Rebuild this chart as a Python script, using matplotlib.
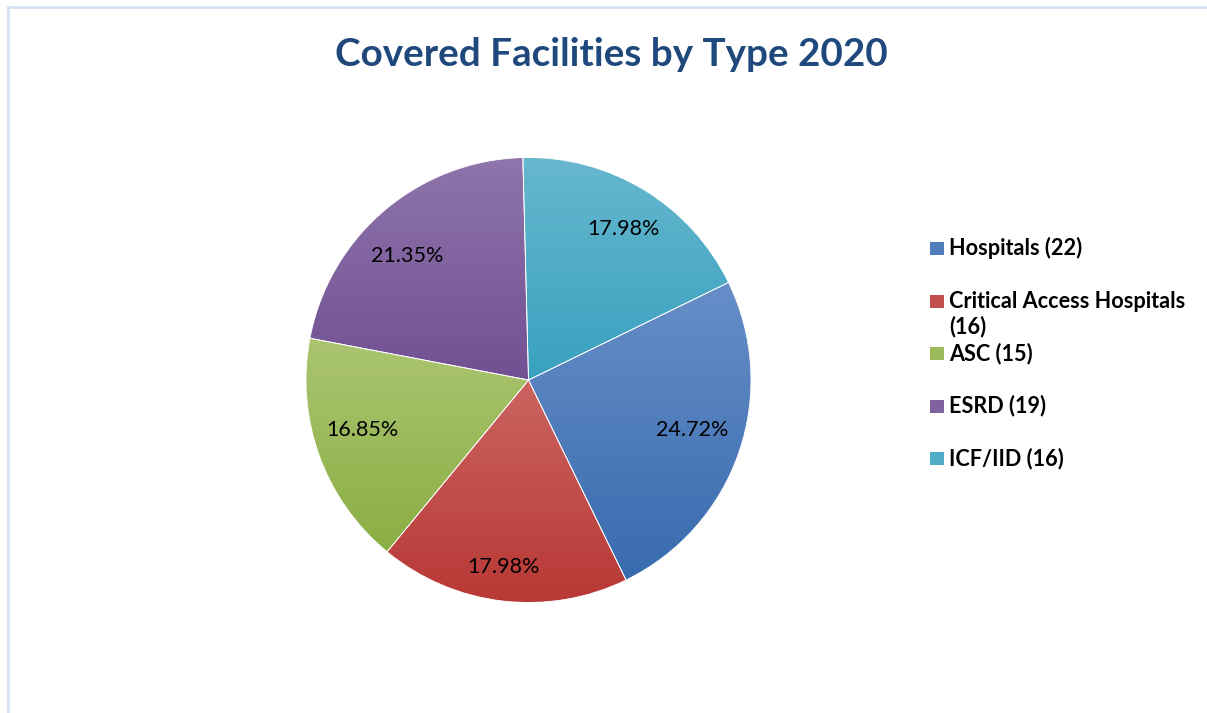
import textwrap
import numpy as np
import matplotlib.pyplot as plt
from matplotlib.colors import to_rgb
from matplotlib.lines import Line2D
from matplotlib.patches import Rectangle

# data
facility_types = ["Hospitals", "Critical Access Hospitals", "ASC", "ESRD", "ICF/IID"]
facility_counts = [22, 16, 15, 19, 16]
# percentages as printed on the chart (they don't add up to 100, kept as shown)
pct_labels = ["24.72%", "17.98%", "16.85%", "21.35%", "17.98%"]

# excel-ish gradient per slice (top -> bottom)
top_colors = ["#678EC7", "#CB6561", "#ABC571", "#8F75AB", "#67B7CF"]
bottom_colors = ["#386BAF", "#B83835", "#8AAE44", "#715093", "#38A1BE"]

# excel "best fit" label placement: radius fraction and angle nudge (deg) per slice
label_dist = [0.77, 0.85, 0.78, 0.78, 0.80]
label_nudge = [2, -1, -3, 4, -1]

W, H = 1207, 713
plt.rcParams['font.family'] = ['Lato', 'DejaVu Sans']
fig = plt.figure(figsize=(W / 100, H / 100), dpi=100)


def fx(px):
    return px / W


def fy(py):
    return 1 - py / H


# chart area border, only left and top edges are in the crop
border = "#D6E2F2"
fig.add_artist(Line2D([fx(7.5), fx(7.5)], [0, fy(6.5)], color=border, lw=2))
fig.add_artist(Line2D([fx(7.5), 1], [fy(6.5), fy(6.5)], color=border, lw=2))

fig.text(fx(611), fy(55), "Covered Facilities by Type 2020", ha="center", va="center",
         fontsize=27.8, fontweight="bold", color="#1F497D")

# pie
cx, cy, r = 528.5, 380, 222.5
ax = fig.add_axes([fx(cx - r), fy(cy + r), 2 * r / W, 2 * r / H])
labels_iter = iter(pct_labels)
wedges, texts, autotexts = ax.pie(
    facility_counts, startangle=26.0, counterclock=False,
    autopct=lambda p: next(labels_iter), pctdistance=0.79, radius=1,
    colors=bottom_colors,
    wedgeprops=dict(edgecolor="white", linewidth=0.6),
    textprops=dict(fontsize=15.5, color="black"))

t = np.linspace(0, 1, 256)[:, None]
for w, c0, c1 in zip(wedges, top_colors, bottom_colors):
    ext = w.get_path().get_extents()
    grad = (1 - t) * np.array(to_rgb(c0)) + t * np.array(to_rgb(c1))
    im = ax.imshow(grad[:, None, :], extent=[ext.x0, ext.x1, ext.y0, ext.y1],
                   origin="upper", aspect="auto", zorder=1.5, interpolation="bilinear")
    im.set_clip_path(w)
    w.set_facecolor("none")
    w.set_zorder(2)

for w, a, d, nudge in zip(wedges, autotexts, label_dist, label_nudge):
    mid = np.deg2rad((w.theta1 + w.theta2) / 2 + nudge)
    a.set_position((d * np.cos(mid), d * np.sin(mid)))
    a.set_zorder(5)

ax.set_xlim(-1, 1)
ax.set_ylim(-1, 1)
ax.axis("off")

# legend, drawn by hand to get excel's fixed slot spacing
for i, (name, n, c0, c1) in enumerate(zip(facility_types, facility_counts, top_colors, bottom_colors)):
    base = 255 + 52.5 * i
    fig.add_artist(Rectangle((fx(930), fy(base)), 14 / W, 13 / H, transform=fig.transFigure,
                             facecolor=np.mean([to_rgb(c0), to_rgb(c1)], axis=0), edgecolor="none"))
    lines = textwrap.wrap(f"{name} ({n})", 25)
    for j, line in enumerate(lines):
        fig.text(fx(949), fy(base + 26 * j), line, ha="left", va="baseline",
                 fontsize=15.6, fontweight="bold", color="black")

fig.savefig("out.png", dpi=100)
